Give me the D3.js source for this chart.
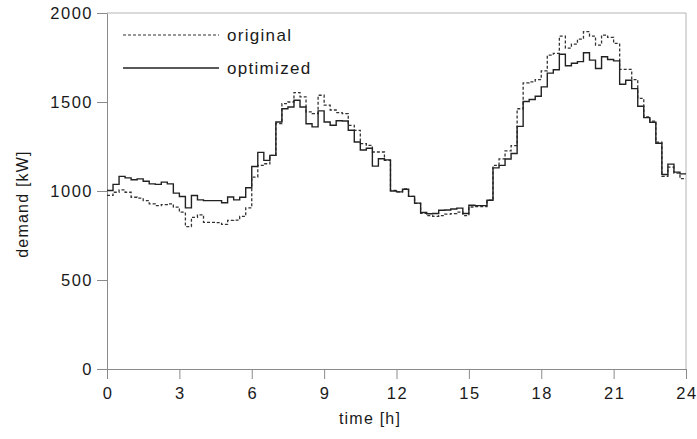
<!DOCTYPE html>
<html>
<head>
<meta charset="utf-8">
<script src="https://cdn.jsdelivr.net/npm/d3@7/dist/d3.min.js"></script>
<style>
  body { margin: 0; background: #fff; }
  text { font-family: "Liberation Sans", Arial, sans-serif; fill: #1a1a1a; }
</style>
</head>
<body>
<svg id="chart" width="697" height="439"></svg>
<script>
// 15-minute demand values [kW], 96 per series
var original = [
  975, 993, 1006, 993, 965, 960, 946, 928, 918, 924, 928, 909,
  881, 800, 852, 866, 824, 824, 822, 812, 835, 836, 857, 905,
  1078, 1144, 1153, 1200, 1378, 1491, 1500, 1553, 1529, 1445, 1435, 1538,
  1482, 1455, 1440, 1435, 1369, 1341, 1266, 1256, 1219, 1219, 1172, 1003,
  995, 1012, 970, 930, 875, 862, 858, 862, 870, 873, 881, 862,
  910, 912, 912, 948, 1144, 1180, 1225, 1255, 1462, 1608, 1613, 1626,
  1675, 1763, 1773, 1870, 1803, 1825, 1853, 1895, 1870, 1820, 1876, 1863,
  1829, 1683, 1683, 1626, 1520, 1416, 1393, 1275, 1082, 1134, 1100, 1069
];
var optimized = [
  1003, 1037, 1082, 1074, 1063, 1068, 1055, 1040, 1037, 1050, 1040, 988,
  969, 905, 975, 950, 946, 946, 946, 934, 966, 950, 965, 1018,
  1138, 1217, 1172, 1200, 1388, 1462, 1472, 1510, 1472, 1378, 1360, 1450,
  1388, 1369, 1395, 1393, 1341, 1275, 1230, 1240, 1140, 1181, 1175, 1000,
  995, 1010, 970, 932, 879, 872, 874, 892, 893, 899, 904, 874,
  920, 918, 918, 948, 1130, 1144, 1180, 1211, 1363, 1503, 1514, 1532,
  1585, 1662, 1681, 1768, 1704, 1718, 1727, 1777, 1735, 1688, 1754, 1739,
  1731, 1600, 1622, 1575, 1476, 1412, 1386, 1268, 1093, 1151, 1106, 1096
];
var hourTicks = [0, 3, 6, 9, 12, 15, 18, 21, 24];
var demandTicks = [0, 500, 1000, 1500, 2000];
var seriesNames = ["original", "optimized"];

var svg = d3.select("#chart");
var margin = { left: 107, right: 686, top: 13, bottom: 369 };

var x = d3.scaleLinear().domain([0, 24]).range([margin.left, margin.right]);
var y = d3.scaleLinear().domain([0, 2000]).range([margin.bottom, margin.top]);

function toSteps(vals) {
    var pts = vals.map(function (v, i) { return [i / 4, v]; });
    pts.push([24, vals[vals.length - 1]]);
    return pts;
}

var line = d3.line()
    .x(function (d) { return x(d[0]); })
    .y(function (d) { return y(d[1]); })
    .curve(d3.curveStepAfter);

// frame (top / right)
svg.append("line").attr("x1", margin.left).attr("x2", margin.right)
    .attr("y1", margin.top).attr("y2", margin.top)
    .attr("stroke", "#b4b4b4").attr("stroke-width", 1);
svg.append("line").attr("x1", margin.right).attr("x2", margin.right)
    .attr("y1", margin.top).attr("y2", margin.bottom)
    .attr("stroke", "#b4b4b4").attr("stroke-width", 1);

// axes
var yAxis = svg.append("g")
    .attr("transform", "translate(" + margin.left + ",0)")
    .call(d3.axisLeft(y).tickValues(demandTicks).tickFormat(d3.format("d"))
        .tickSize(10).tickPadding(4).tickSizeOuter(0));
var xAxis = svg.append("g")
    .attr("transform", "translate(0," + margin.bottom + ")")
    .call(d3.axisBottom(x).tickValues(hourTicks).tickFormat(d3.format("d"))
        .tickSize(10).tickPadding(8).tickSizeOuter(0));

[yAxis, xAxis].forEach(function (g) {
    g.select(".domain").attr("stroke", "#8a8a8a");
    g.selectAll(".tick line").attr("stroke", "#8a8a8a");
    g.selectAll(".tick text")
        .attr("font-size", 16.5)
        .attr("letter-spacing", 1.5)
        .attr("fill", "#1a1a1a");
});
xAxis.selectAll(".tick text").attr("dx", 0.5);
yAxis.selectAll(".tick text").attr("dy", "0.36em");

// axis titles
svg.append("text")
    .attr("x", 370).attr("y", 424)
    .attr("text-anchor", "middle")
    .attr("font-size", 16)
    .attr("letter-spacing", 1.2)
    .text("time [h]");
svg.append("text")
    .attr("transform", "translate(28,204) rotate(-90)")
    .attr("text-anchor", "middle")
    .attr("font-size", 16)
    .attr("letter-spacing", 1.2)
    .text("demand [kW]");

// series
svg.append("path")
    .datum(toSteps(original))
    .attr("fill", "none")
    .attr("stroke", "#333")
    .attr("stroke-width", 1.3)
    .attr("stroke-dasharray", "3,2")
    .attr("d", line);
svg.append("path")
    .datum(toSteps(optimized))
    .attr("fill", "none")
    .attr("stroke", "#222")
    .attr("stroke-width", 1.4)
    .attr("d", line);

// legend
var legend = svg.append("g");
seriesNames.forEach(function (name, i) {
    var ly = 35 + i * 33;
    legend.append("line")
        .attr("x1", 123).attr("x2", 219)
        .attr("y1", ly).attr("y2", ly)
        .attr("stroke", i === 0 ? "#333" : "#222")
        .attr("stroke-width", i === 0 ? 1.2 : 1.4)
        .attr("stroke-dasharray", i === 0 ? "3,2" : null);
    legend.append("text")
        .attr("x", 227).attr("y", ly + 6)
        .attr("font-size", 17)
        .attr("letter-spacing", 1.3)
        .text(name);
});
</script>
</body>
</html>
